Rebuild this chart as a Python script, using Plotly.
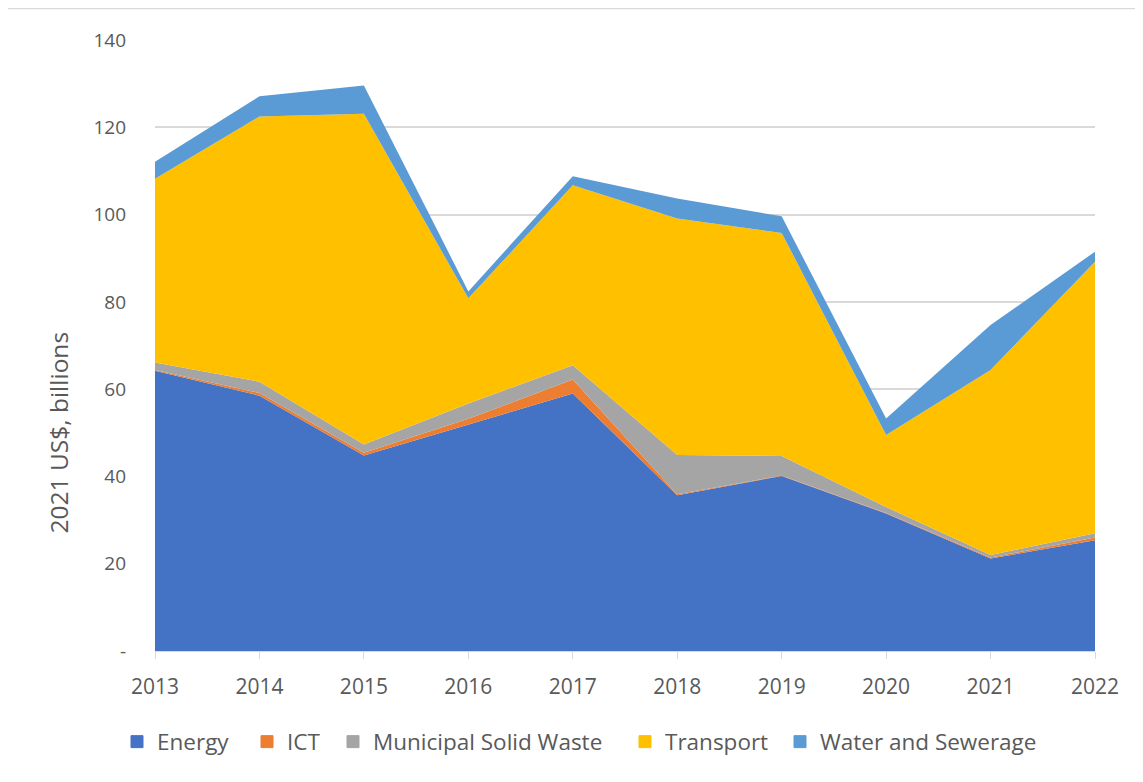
import plotly.graph_objects as go

years = [2013, 2014, 2015, 2016, 2017, 2018, 2019, 2020, 2021, 2022]
energy = [64.2, 58.5, 44.8, 51.9, 59.0, 35.7, 40.1, 31.5, 21.2, 25.4]
ict = [0.2, 0.6, 0.6, 1.3, 3.2, 0.2, 0.1, 0.1, 0.2, 0.6]
msw = [1.7, 2.6, 1.9, 3.5, 3.3, 9.0, 4.5, 1.4, 0.6, 1.0]
transport = [42.1, 60.8, 75.8, 24.1, 41.2, 54.2, 51.1, 16.5, 42.4, 62.2]
water = [3.9, 4.6, 6.5, 1.6, 2.1, 4.6, 3.8, 3.8, 10.3, 2.3]

series = [
    ("Energy", energy, "#4472C4"),
    ("ICT", ict, "#ED7D31"),
    ("Municipal Solid Waste", msw, "#A5A5A5"),
    ("Transport", transport, "#FFC000"),
    ("Water and Sewerage", water, "#5B9BD5"),
]

y_tickvals = [0, 20, 40, 60, 80, 100, 120, 140]
y_ticktext = ["-", "20", "40", "60", "80", "100", "120", "140"]

FONT = "Open Sans"
TXT = "#595959"

# page is offset by the 8px body margin
OFF = 8
W, H = 1143 - OFF, 782 - OFF
L, T = 155 - OFF, 40 - OFF
pw, ph = 940, 611
R, B = W - L - pw, H - T - ph

def px_x(p):
    return (p - OFF - L) / pw

def px_y(p):
    return (T + ph - (p - OFF)) / ph

fig = go.Figure()
for name, vals, col in series:
    fig.add_trace(go.Scatter(
        x=years, y=vals, name=name, mode="lines",
        stackgroup="one", line=dict(width=0, color=col),
        fillcolor=col, showlegend=False, legendgroup=name,
    ))

# legend swatch start positions (page px) of each entry
legend_x = [130, 260, 346, 638, 793]
legend_cfg = {}
for i, ((name, vals, col), lx) in enumerate(zip(series, legend_x)):
    key = "legend" if i == 0 else f"legend{i + 1}"
    fig.add_trace(go.Bar(x=[None], y=[None], name=name,
                         marker=dict(color=col, line=dict(color=col, width=1)),
                         legendgroup=name, showlegend=True, legend=key))
    legend_cfg[key] = dict(orientation="h", x=px_x(lx - 13), xanchor="left",
                           y=px_y(742), yanchor="middle",
                           font=dict(size=22.5, color=TXT, family=FONT),
                           itemwidth=30, itemclick=False, bgcolor="rgba(0,0,0,0)")

fig.update_layout(
    width=W, height=H,
    margin=dict(l=L, r=R, t=T, b=B),
    paper_bgcolor="white", plot_bgcolor="white",
    font=dict(family=FONT, color=TXT, size=19),
    showlegend=True,
    xaxis=dict(range=[2013, 2022], tickvals=years, ticktext=[str(y) for y in years],
               showgrid=False, zeroline=False, showline=True, linecolor="#d9d9d9",
               linewidth=1, ticks="outside", ticklen=7, tickcolor="#d9d9d9",
               ticklabelstandoff=10,
               tickfont=dict(size=21, color=TXT, family=FONT)),
    yaxis=dict(range=[0, 140], tickvals=y_tickvals, ticktext=y_ticktext,
               showgrid=True, gridcolor="#d9d9d9", gridwidth=1.5, zeroline=False,
               showline=False, ticks="", ticklabelstandoff=28,
               tickfont=dict(size=19, color=TXT, family=FONT)),
    annotations=[
        dict(text="2021 US$, billions", textangle=-90, showarrow=False,
             xref="paper", yref="paper", x=px_x(57.5), y=px_y(433),
             xanchor="center", yanchor="middle",
             font=dict(size=24.5, color=TXT, family=FONT)),
    ],
    shapes=[
        dict(type="line", xref="paper", yref="paper",
             x0=px_x(8), x1=px_x(1143), y0=px_y(8.5), y1=px_y(8.5),
             line=dict(color="#d9d9d9", width=1.5)),
    ],
    **legend_cfg,
)

fig.write_html("out.html")
